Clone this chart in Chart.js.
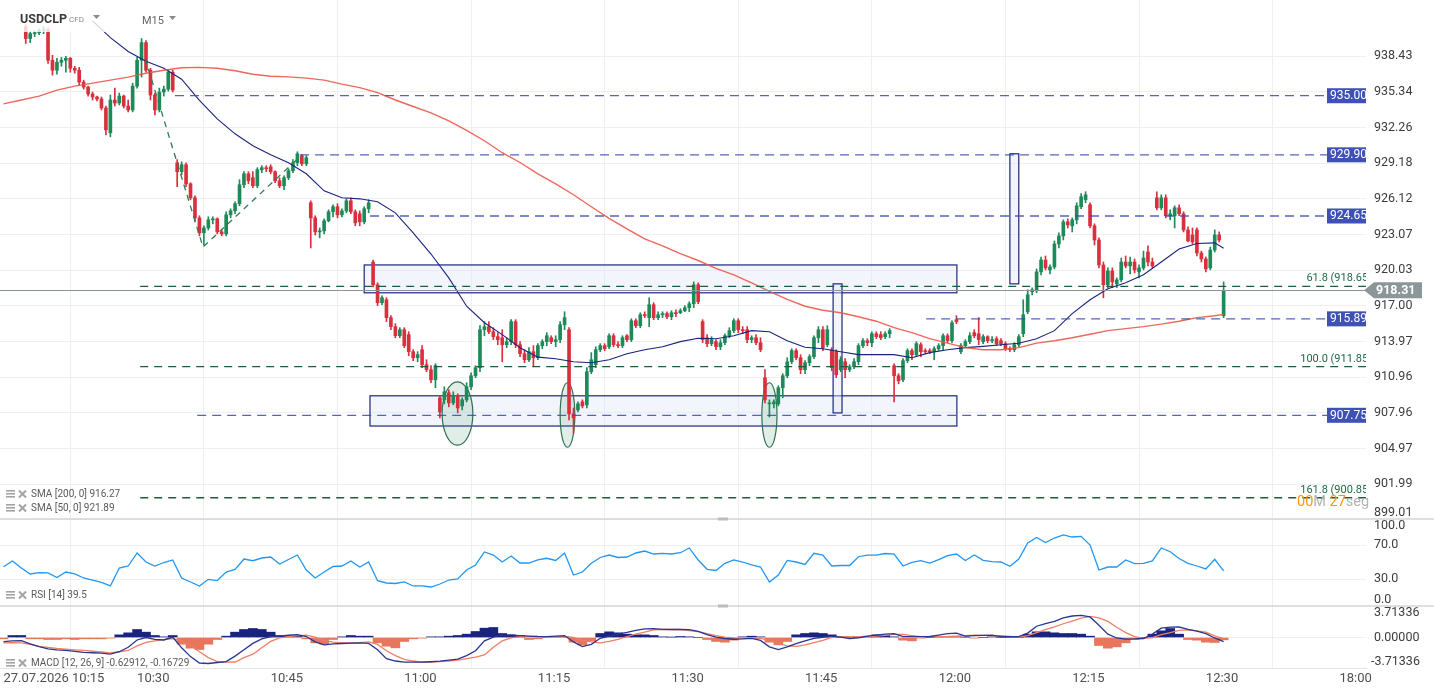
<!DOCTYPE html>
<html>
<head>
<meta charset="utf-8">
<script src="https://cdn.jsdelivr.net/npm/chart.js@4.4.0/dist/chart.umd.min.js"></script>
<style>
html, body { margin: 0; padding: 0; background: #fff; }
canvas { display: block; }
</style>
</head>
<body>
<canvas id="chart" width="1434" height="694"></canvas>
<script>
// time axis: one candle per 30 s, a label every 15 min (30 candles)
const xLabels = ['27.07.2026 10:15', '10:30', '10:45', '11:00', '11:15', '11:30', '11:45', '12:00', '12:15', '12:30', '18:00'];
const ticksEvery = 30;

// first candles sit under the symbol header and are not visible
const opens = [
  null, null, null, null, null, 940.99, 939.96, 940.39, 940.47, 940.64,
  940.73, 938.07, 937.21, 937.90, 938.07, 938.24, 937.38, 937.21, 936.18, 935.75,
  935.15, 934.89, 934.72, 933.94, 931.80, 934.63, 934.37, 934.97, 934.11, 933.77,
  935.83, 938.07, 939.61, 937.21, 935.06, 933.77, 935.32, 935.57, 937.04, 929.22,
  928.45, 929.05, 927.41, 926.21, 924.49, 923.21, 923.63, 924.32, 924.41, 923.29,
  923.12, 924.75, 925.09, 925.70, 927.33, 928.27, 927.93, 927.24, 928.62, 928.79,
  928.87, 928.45, 927.67, 927.24, 927.93, 928.53, 929.22, 929.82, 929.13, 925.78,
  924.49, 923.29, 923.38, 924.24, 925.01, 925.44, 924.75, 925.09, 925.95, 925.01,
  924.84, 924.15, 925.27, 920.72, 918.78, 917.26, 917.51, 915.99, 915.23, 914.46,
  914.97, 914.55, 913.11, 912.60, 913.28, 912.01, 911.59, 910.74, 909.22, 909.05,
  909.64, 908.79, 909.39, 908.54, 909.05, 910.15, 911.08, 911.76, 914.97, 915.23,
  914.80, 914.38, 914.29, 913.70, 913.96, 915.65, 913.70, 912.94, 912.43, 913.11,
  912.60, 913.62, 913.96, 914.29, 913.96, 914.13, 915.39, 914.97, 907.87, 908.20,
  908.88, 908.63, 911.42, 912.01, 913.28, 913.62, 913.53, 914.46, 913.70, 913.62,
  914.46, 914.13, 915.73, 915.31, 916.24, 915.99, 917.09, 915.99, 916.24, 916.33,
  916.07, 916.41, 916.41, 916.58, 916.83, 917.17, 918.78, 915.65, 914.29, 913.79,
  913.96, 913.53, 913.87, 914.46, 914.89, 915.73, 914.97, 914.97, 914.13, 914.29,
  913.87, 910.91, 908.71, 908.71, 908.71, 910.07, 911.08, 912.26, 913.20, 912.60,
  911.59, 912.18, 912.69, 914.29, 914.97, 913.70, 913.28, 913.11, 911.59, 912.26,
  911.59, 911.84, 912.26, 913.62, 914.04, 913.87, 914.63, 914.55, 914.38, 914.63,
  911.93, 911.08, 910.74, 912.35, 913.20, 912.86, 913.70, 913.20, 913.20, 913.11,
  913.36, 913.62, 914.46, 914.04, 915.82, 913.11, 913.62, 913.96, 914.72, 914.63,
  913.96, 914.38, 914.04, 914.21, 914.04, 913.79, 913.36, 913.28, 913.70, 914.63,
  916.49, 918.19, 918.36, 919.88, 920.89, 920.05, 920.30, 922.26, 922.95, 924.15,
  923.81, 924.32, 925.44, 926.04, 925.61, 923.81, 922.60, 920.47, 918.78, 919.96,
  918.86, 919.20, 920.72, 920.39, 920.72, 919.88, 920.22, 921.57, 920.72, 926.21,
  925.35, 926.21, 924.67, 924.67, 925.35, 924.84, 923.46, 923.03, 923.46, 921.49,
  920.98, 920.22, 921.74, 923.03, 916.16
];
const highs = [
  null, null, null, null, null, 941.16, 940.56, 940.64, 940.81, 940.99,
  940.90, 938.50, 938.24, 938.32, 938.41, 938.32, 937.55, 937.46, 936.35, 935.83,
  935.32, 934.97, 934.89, 934.11, 935.06, 935.66, 935.23, 935.06, 934.63, 936.09,
  938.32, 939.96, 939.78, 937.38, 935.23, 935.66, 935.83, 937.21, 937.21, 929.48,
  929.30, 929.22, 927.50, 926.38, 924.67, 923.81, 924.58, 924.58, 924.49, 923.46,
  925.01, 925.27, 925.87, 927.76, 928.45, 928.45, 928.45, 928.79, 928.96, 928.96,
  929.05, 928.53, 927.93, 928.10, 928.70, 929.48, 930.16, 929.91, 929.82, 925.95,
  924.67, 923.63, 924.41, 925.18, 925.61, 925.70, 925.27, 926.12, 926.21, 925.18,
  925.09, 925.44, 926.04, 920.89, 918.95, 917.85, 917.68, 916.16, 915.48, 915.14,
  915.14, 914.80, 913.28, 913.11, 913.62, 912.43, 911.93, 912.09, 909.39, 910.15,
  909.90, 909.73, 909.56, 909.22, 910.49, 911.33, 911.93, 915.31, 915.65, 915.65,
  915.14, 914.72, 914.97, 914.29, 915.82, 915.82, 913.96, 913.28, 913.45, 913.62,
  913.79, 914.13, 914.72, 914.46, 914.46, 915.65, 916.49, 915.14, 908.37, 908.88,
  909.05, 911.76, 913.03, 913.53, 913.79, 913.79, 914.63, 914.63, 913.96, 914.46,
  914.55, 915.90, 915.90, 916.41, 916.49, 917.68, 917.26, 916.49, 916.49, 916.49,
  916.58, 916.66, 916.75, 917.01, 917.34, 919.03, 918.95, 915.82, 914.55, 914.38,
  914.13, 914.13, 914.63, 915.14, 915.90, 915.90, 915.23, 915.23, 914.46, 914.55,
  914.29, 911.59, 909.05, 909.05, 910.23, 911.25, 912.60, 913.36, 913.36, 912.86,
  912.35, 912.86, 914.46, 915.23, 915.23, 915.31, 913.45, 913.28, 912.69, 912.52,
  912.01, 912.52, 913.79, 914.21, 914.21, 914.80, 914.80, 914.80, 914.80, 915.06,
  912.09, 911.25, 912.52, 913.36, 913.36, 913.96, 913.87, 913.36, 913.36, 913.53,
  913.79, 914.63, 914.63, 915.73, 916.16, 913.79, 914.13, 914.72, 914.97, 915.99,
  914.55, 914.46, 914.38, 914.38, 914.21, 913.96, 913.53, 913.87, 914.55, 917.51,
  918.36, 918.53, 920.13, 921.15, 921.23, 920.47, 922.52, 923.21, 924.32, 924.41,
  924.49, 925.78, 926.56, 926.73, 925.78, 923.98, 922.78, 920.72, 920.22, 920.22,
  919.37, 921.06, 921.23, 921.15, 920.98, 920.47, 921.65, 922.09, 921.06, 926.73,
  926.47, 926.47, 925.18, 925.52, 925.61, 925.01, 923.72, 923.63, 923.63, 921.65,
  921.15, 922.00, 923.46, 923.29, 919.03
];
const lows = [
  null, null, null, null, null, 939.53, 939.61, 940.13, 940.30, 940.39,
  937.81, 936.78, 936.86, 937.55, 937.04, 937.04, 936.95, 935.92, 935.57, 934.97,
  934.63, 934.54, 933.77, 931.62, 931.45, 934.11, 934.20, 933.94, 933.60, 933.60,
  935.66, 936.61, 937.04, 934.63, 933.34, 933.60, 934.97, 935.40, 935.32, 927.16,
  928.19, 927.16, 926.04, 924.15, 922.95, 922.17, 923.46, 923.98, 923.12, 922.95,
  922.95, 924.49, 924.84, 925.52, 927.07, 927.41, 927.07, 927.07, 928.36, 928.45,
  928.27, 927.50, 927.07, 926.90, 927.76, 928.36, 928.96, 928.96, 928.96, 921.92,
  923.03, 922.78, 923.12, 924.15, 924.58, 924.49, 924.58, 924.92, 924.84, 923.81,
  923.81, 923.98, 924.92, 918.61, 917.01, 917.09, 915.65, 914.97, 914.29, 914.29,
  913.45, 912.77, 912.35, 912.26, 911.76, 911.42, 910.49, 910.07, 907.53, 908.71,
  908.46, 908.63, 907.95, 908.20, 908.88, 909.90, 910.91, 911.42, 914.46, 914.63,
  914.13, 913.70, 912.26, 913.45, 913.70, 913.45, 912.69, 912.18, 912.26, 911.84,
  912.43, 913.36, 913.62, 913.79, 913.53, 913.87, 914.97, 907.36, 906.26, 908.03,
  908.37, 908.37, 911.25, 911.76, 913.11, 913.20, 913.36, 913.53, 913.45, 913.45,
  913.96, 913.96, 915.14, 915.14, 915.99, 915.23, 915.82, 915.82, 915.99, 915.90,
  915.82, 916.07, 916.33, 916.49, 916.49, 916.83, 917.17, 913.87, 913.53, 913.62,
  913.28, 913.28, 913.70, 914.29, 914.72, 914.72, 914.63, 913.87, 913.87, 913.70,
  913.11, 908.79, 907.61, 908.37, 908.54, 909.22, 910.91, 912.09, 912.43, 911.25,
  911.25, 911.93, 912.52, 913.87, 913.20, 913.53, 911.50, 910.91, 911.42, 910.91,
  911.42, 911.67, 912.01, 913.45, 913.62, 913.53, 914.21, 914.13, 914.21, 914.29,
  908.88, 910.40, 910.57, 912.18, 912.43, 912.69, 912.69, 912.94, 912.94, 912.43,
  913.20, 913.28, 913.87, 913.87, 915.48, 912.94, 913.45, 913.79, 914.29, 913.70,
  913.79, 913.87, 913.87, 913.62, 913.62, 913.20, 913.11, 913.11, 913.53, 914.38,
  916.33, 917.93, 918.10, 919.63, 920.05, 919.71, 920.13, 921.92, 922.60, 923.63,
  923.29, 923.98, 925.27, 925.78, 923.63, 922.17, 920.22, 917.68, 918.53, 918.53,
  918.53, 919.03, 920.22, 919.71, 919.79, 919.37, 920.05, 920.39, 920.22, 925.18,
  925.18, 924.49, 924.32, 923.63, 924.67, 923.29, 922.43, 922.26, 921.23, 920.72,
  919.88, 920.05, 921.57, 922.43, 915.99
];
const closes = [
  null, null, null, null, null, 939.96, 940.39, 940.47, 940.64, 940.73,
  938.07, 937.21, 937.90, 938.07, 938.24, 937.38, 937.21, 936.18, 935.75, 935.15,
  934.89, 934.72, 933.94, 932.05, 934.63, 934.37, 934.97, 934.11, 933.77, 935.83,
  938.07, 939.61, 937.21, 935.06, 933.77, 935.32, 935.57, 937.04, 935.49, 928.45,
  929.05, 927.41, 926.21, 924.49, 923.21, 923.63, 924.32, 924.41, 923.29, 923.12,
  924.75, 925.09, 925.70, 927.33, 928.27, 927.67, 927.24, 928.62, 928.79, 928.70,
  928.45, 927.67, 927.24, 927.93, 928.53, 929.22, 929.99, 929.13, 929.65, 924.49,
  923.29, 923.38, 924.24, 925.01, 925.44, 924.75, 925.09, 925.95, 925.01, 924.06,
  924.15, 925.27, 925.78, 918.78, 917.26, 917.68, 915.99, 915.23, 914.46, 914.97,
  913.62, 913.11, 912.60, 912.86, 912.01, 911.59, 910.74, 911.93, 908.03, 909.73,
  908.79, 909.39, 908.37, 909.05, 910.15, 911.08, 911.76, 914.97, 915.23, 914.80,
  914.38, 914.13, 913.70, 913.96, 915.65, 913.70, 912.94, 912.43, 913.11, 912.60,
  913.62, 913.96, 914.46, 913.96, 914.13, 915.39, 915.99, 907.87, 907.53, 908.71,
  908.54, 911.42, 912.43, 913.28, 913.62, 913.36, 914.46, 913.70, 913.62, 914.29,
  914.13, 915.73, 915.31, 916.24, 916.16, 917.09, 915.99, 916.24, 916.33, 916.07,
  916.41, 916.33, 916.58, 916.83, 917.17, 918.78, 917.34, 914.13, 913.79, 914.13,
  913.53, 913.87, 914.46, 914.89, 915.73, 914.97, 914.89, 914.13, 914.29, 913.87,
  913.28, 909.05, 908.79, 908.88, 910.07, 911.08, 912.26, 913.20, 912.60, 911.59,
  912.18, 912.69, 914.29, 914.97, 913.45, 914.97, 911.76, 911.16, 912.43, 911.59,
  911.84, 912.26, 913.62, 914.04, 913.87, 914.63, 914.38, 914.29, 914.63, 914.89,
  911.08, 910.66, 912.35, 913.20, 912.86, 913.79, 913.11, 913.11, 913.11, 913.36,
  913.62, 914.46, 914.04, 915.56, 915.65, 913.62, 913.96, 914.46, 914.46, 914.13,
  914.38, 914.04, 914.13, 913.79, 913.79, 913.36, 913.28, 913.70, 914.38, 916.24,
  917.93, 918.36, 919.88, 920.89, 920.22, 920.30, 922.26, 922.95, 924.15, 923.89,
  924.32, 925.52, 926.30, 926.47, 923.81, 922.60, 920.47, 918.78, 919.96, 919.03,
  919.20, 920.72, 920.39, 920.72, 920.05, 920.22, 921.06, 920.72, 920.39, 925.35,
  926.21, 924.67, 924.84, 925.35, 924.84, 923.46, 922.52, 922.43, 921.49, 920.98,
  920.13, 921.74, 923.03, 922.60, 918.31
];

// moving averages, read every 2 minutes (4 candles) plus the last candle
const sma200 = [
  934.29, 934.63, 934.97, 935.49, 935.83, 936.09, 936.35, 936.61, 936.95, 937.21,
  937.42, 937.46, 937.38, 937.16, 936.86, 936.69, 936.63, 936.52, 936.35, 936.00,
  935.70, 935.27, 934.63, 934.07, 933.51, 932.83, 932.01, 931.11, 930.08, 929.24,
  928.27, 927.41, 926.47, 925.44, 924.45, 923.55, 922.69, 922.09, 921.44, 920.85,
  920.17, 919.63, 918.95, 918.23, 917.55, 916.96, 916.62, 916.41, 916.07, 915.69,
  915.14, 914.72, 914.21, 913.83, 913.45, 913.28, 913.28, 913.45, 913.83, 914.04,
  914.29, 914.59, 914.89, 915.06, 915.23, 915.44, 915.69, 915.99, 916.15, 916.27
];
const sma50 = [
  null, null, null, null, null, 941.50, 940.04, 938.84, 937.98, 937.38,
  936.43, 934.59, 933.00, 931.71, 930.68, 929.91, 929.22, 928.27, 926.81, 926.21,
  926.12, 925.87, 924.92, 923.21, 921.40, 919.37, 916.96, 915.56, 914.55, 913.45,
  912.65, 912.52, 912.26, 912.18, 912.43, 912.94, 913.28, 913.53, 913.96, 914.25,
  914.21, 914.46, 914.89, 914.80, 914.04, 913.49, 913.36, 913.11, 912.86, 912.86,
  912.86, 912.60, 913.03, 913.28, 913.45, 913.56, 913.70, 913.83, 914.21, 914.89,
  916.33, 917.51, 918.44, 918.95, 919.63, 920.72, 921.83, 922.30, 922.35, 921.89
];

// oscillators, read once a minute
const rsi14 = [
  44.5, 51.2, 42.9, 35.9, 37.6, 37.1, 31.8, 38.2, 35.9, 31.2,
  28.8, 25.9, 21.8, 42.9, 45.3, 60.6, 50.0, 45.3, 49.4, 52.4,
  31.2, 26.5, 21.8, 29.6, 28.2, 38.2, 41.2, 53.5, 51.5, 54.7,
  55.9, 47.6, 52.9, 58.2, 40.6, 31.2, 38.2, 44.7, 45.3, 51.2,
  44.1, 50.0, 28.0, 25.3, 24.7, 26.5, 21.8, 21.8, 20.6, 24.1,
  28.8, 30.0, 40.6, 46.5, 61.8, 58.2, 50.0, 57.1, 48.8, 48.8,
  52.4, 54.4, 51.8, 60.6, 34.7, 38.2, 48.5, 55.3, 58.2, 55.3,
  55.9, 60.6, 62.9, 59.4, 60.2, 59.4, 60.9, 66.5, 52.4, 41.4,
  40.0, 48.5, 52.4, 50.0, 46.5, 44.1, 26.5, 34.7, 51.8, 50.0,
  47.1, 60.2, 58.2, 45.3, 45.9, 45.9, 56.2, 58.2, 58.2, 60.0,
  59.4, 45.3, 49.6, 51.5, 48.8, 52.9, 57.6, 59.4, 51.8, 58.2,
  52.0, 50.4, 50.0, 44.9, 53.5, 72.4, 78.8, 72.9, 78.2, 81.8,
  79.4, 80.2, 70.0, 40.6, 44.1, 44.1, 52.4, 48.2, 48.5, 51.2,
  66.5, 62.1, 54.1, 48.5, 45.3, 41.8, 53.2, 39.5
];
const macdLine = [
  -0.62, -0.51, -0.47, -0.95, -1.35, -1.69, -1.86, -1.94, -2.09, -2.23,
  -2.28, -2.35, -2.50, -2.13, -1.47, -0.37, 0.00, -0.29, -0.37, 0.07,
  -1.54, -2.86, -3.82, -3.89, -3.74, -3.60, -2.79, -1.84, -0.88, -0.22,
  0.15, 0.22, 0.34, 0.44, 0.15, -0.66, -1.10, -0.95, -0.90, -0.85,
  -0.81, -0.88, -1.84, -3.16, -3.52, -3.70, -3.70, -3.70, -3.63, -3.55,
  -3.38, -3.23, -2.72, -1.98, -0.51, 0.07, 0.37, 0.37, 0.29, 0.22,
  0.15, 0.12, 0.22, 0.29, -0.66, -1.35, -1.03, -0.12, 0.22, 0.51,
  0.76, 1.07, 1.28, 1.32, 1.22, 1.20, 1.20, 1.17, 0.91, 0.44,
  0.07, -0.15, -0.26, -0.22, -0.12, -0.44, -1.40, -1.81, -1.40, -0.91,
  -0.51, -0.12, 0.04, 0.22, 0.07, -0.18, -0.07, 0.22, 0.37, 0.51,
  0.59, 0.12, 0.12, 0.12, 0.15, 0.37, 0.59, 0.66, 0.22, 0.29,
  0.32, 0.37, 0.12, 0.12, 0.12, 0.66, 1.69, 2.09, 2.42, 2.94,
  3.22, 3.30, 3.08, 1.84, 0.51, -0.07, -0.25, -0.22, -0.15, 0.51,
  1.40, 1.54, 1.57, 1.22, 0.95, 0.59, -0.07, -0.62912
];
const macdSignal = [
  -0.81, -0.78, -0.81, -1.03, -1.32, -1.47, -1.62, -1.73, -1.84, -1.94,
  -2.06, -2.16, -2.31, -2.13, -1.94, -1.25, -0.73, -0.51, -0.32, -0.16,
  -0.51, -1.17, -2.13, -3.01, -3.60, -3.70, -3.67, -3.01, -2.50, -1.54,
  -0.59, -0.07, 0.15, 0.25, 0.34, 0.07, -0.44, -0.70, -0.81, -0.82,
  -0.78, -0.66, -1.03, -1.98, -2.72, -3.27, -3.52, -3.67, -3.67, -3.60,
  -3.52, -3.38, -3.16, -2.94, -2.61, -1.47, -0.51, -0.07, 0.12, 0.12,
  0.12, 0.12, 0.12, 0.12, 0.00, -0.44, -0.66, -0.81, -0.59, -0.29,
  0.15, 0.51, 0.81, 1.13, 1.20, 1.20, 1.20, 1.03, 0.88, 0.59,
  0.29, 0.07, -0.07, -0.12, -0.12, -0.12, -0.44, -0.88, -1.25, -1.32,
  -1.10, -0.78, -0.44, 0.00, 0.12, 0.12, 0.12, 0.12, 0.22, 0.32,
  0.47, 0.47, 0.29, 0.12, 0.12, 0.12, 0.15, 0.22, 0.28, 0.37,
  0.32, 0.28, 0.26, 0.15, 0.06, 0.29, 0.73, 1.17, 1.59, 2.06,
  2.47, 2.89, 3.16, 2.94, 2.42, 1.54, 0.73, 0.12, -0.12, 0.00,
  0.44, 0.73, 1.06, 1.15, 1.00, 0.81, 0.25, -0.16729
];
const macdHist = [
  -0.2, 0.3, 0.3, -0.2, -0.2, -0.3, -0.3, -0.2, -0.3, -0.2,
  -0.2, -0.2, -0.1, 0.4, 0.7, 1.2, 0.8, 0.3, 0.1, 0.3,
  -1.0, -1.6, -1.8, -1.0, -0.3, 0.2, 0.8, 1.2, 1.35, 1.2,
  0.8, 0.3, 0.2, 0.2, -0.2, -0.8, -1.0, -0.3, 0.1, 0.3,
  0.2, 0.2, -0.8, -1.3, -1.55, -0.6, -0.2, -0.1, 0.1, 0.1,
  0.2, 0.3, 0.5, 0.9, 1.4, 1.5, 0.6, 0.4, 0.3, -0.3,
  -0.2, 0.1, 0.1, 0.1, -0.7, -1.1, -0.5, 0.6, 0.85, 0.7,
  0.5, 0.4, 0.4, 0.3, 0.1, 0.05, 0.15, 0.1, 0.0, -0.3,
  -0.6, -0.7, -0.4, 0.1, 0.2, 0.1, -0.7, -1.1, -0.6, 0.4,
  0.6, 0.7, 0.6, 0.4, 0.0, 0.05, 0.0, 0.2, 0.4, 0.3,
  0.1, -0.4, -0.5, -0.1, 0.0, 0.1, 0.1, 0.1, 0.05, -0.1,
  0.0, 0.1, 0.0, 0.0, 0.0, 0.5, 0.85, 0.85, 0.7, 0.6,
  0.6, 0.5, 0.2, -1.2, -1.6, -1.4, -0.8, -0.3, 0.0, 0.5,
  1.0, 1.35, 0.5, -0.3, -0.4, -0.7, -0.75, -0.35
];

// axis ticks
const priceTicks = [938.43, 935.34, 932.26, 929.18, 926.12, 923.07, 920.03, 917.00, 913.97, 910.96, 907.96, 904.97, 901.99, 899.01];
const rsiTicks = [100, 70, 30, 0];
const macdTicks = [3.71336, 0, -3.71336];
const lastPrice = 918.31;

// drawings on the price pane (candle index, price)
const levelPrices = [935.00, 929.90, 924.65, 915.89, 907.75];
const levelFrom = [38.5, 66.6, 82.3, 207.2, 43.5];
const fibPrices = [918.65, 911.85, 900.85];
const fibNames = ['61.8 (918.65)', '100.0 (911.85)', '161.8 (900.85)'];
const fibFrom = 30.7;
const trendIdx = [31.8, 44.8, 66.6];
const trendPrice = [938.24, 922.00, 929.74];
const zoneFrom = [81.0, 82.3, 186.3, 226.0];
const zoneTo = [214.1, 214.1, 188.3, 228.0];
const zoneHigh = [920.47, 909.39, 918.86, 929.99];
const zoneLow = [918.10, 906.85, 907.95, 918.86];
const ovalFrom = [98.5, 125.0, 170.3];
const ovalTo = [105.4, 128.3, 173.7];
const ovalHigh = [910.57, 910.49, 910.49];
const ovalLow = [905.24, 905.07, 905.07];

const UP = '#1f8a59';
const DOWN = '#d9303e';
const shown = closes.map((c, i) => i).filter(i => closes[i] !== null);
const candleColor = shown.map(i => closes[i] >= opens[i] ? UP : DOWN);
const smaIdx = sma200.map((v, j) => j < sma200.length - 1 ? j * 4 : closes.length - 1);

function drawIcons(ctx, y) {
  ctx.fillStyle = '#a3a3a3';
  for (let k = 0; k < 3; k++) ctx.fillRect(6, y - 4 + k * 3, 9, 1.6);
  ctx.strokeStyle = '#a3a3a3';
  ctx.lineWidth = 2;
  ctx.beginPath();
  ctx.moveTo(19, y - 3.5); ctx.lineTo(26, y + 3.5);
  ctx.moveTo(26, y - 3.5); ctx.lineTo(19, y + 3.5);
  ctx.stroke();
}

const drawings = {
  id: 'drawings',
  beforeDatasetsDraw(chart) {
    const {ctx, scales: {x, y}} = chart;
    ctx.save();
    ctx.beginPath();
    ctx.rect(x.left, y.top, x.right - x.left, y.bottom - y.top);
    ctx.clip();
    zoneFrom.forEach((f, i) => {
      const l = x.getPixelForValue(f), r = x.getPixelForValue(zoneTo[i]);
      const t = y.getPixelForValue(zoneHigh[i]), b = y.getPixelForValue(zoneLow[i]);
      ctx.fillStyle = 'rgba(225,231,247,0.4)';
      ctx.fillRect(l, t, r - l, b - t);
      ctx.strokeStyle = '#1c2580';
      ctx.lineWidth = 1.2;
      ctx.strokeRect(l, t, r - l, b - t);
    });
    ovalFrom.forEach((f, i) => {
      const l = x.getPixelForValue(f), r = x.getPixelForValue(ovalTo[i]);
      const t = y.getPixelForValue(ovalHigh[i]), b = y.getPixelForValue(ovalLow[i]);
      ctx.beginPath();
      ctx.ellipse((l + r) / 2, (t + b) / 2, (r - l) / 2, (b - t) / 2, 0, 0, Math.PI * 2);
      ctx.fillStyle = 'rgba(70,140,105,0.16)';
      ctx.fill();
      ctx.strokeStyle = '#2f6f52';
      ctx.lineWidth = 1.2;
      ctx.stroke();
    });
    ctx.restore();
  },
  afterDatasetsDraw(chart) {
    const {ctx, scales: {x, y}} = chart;
    ctx.save();
    ctx.beginPath();
    ctx.rect(x.left, y.top, x.right - x.left, y.bottom - y.top);
    ctx.clip();

    // current price
    const lp = Math.round(y.getPixelForValue(lastPrice)) + 0.5;
    ctx.strokeStyle = '#8d9497';
    ctx.lineWidth = 1;
    ctx.beginPath(); ctx.moveTo(x.left, lp); ctx.lineTo(x.right, lp); ctx.stroke();

    // fibonacci levels
    ctx.setLineDash([8, 6]);
    ctx.strokeStyle = '#1d5e3d';
    ctx.lineWidth = 1.3;
    fibPrices.forEach(p => {
      const py = y.getPixelForValue(p);
      ctx.beginPath(); ctx.moveTo(x.getPixelForValue(fibFrom), py); ctx.lineTo(x.right, py); ctx.stroke();
    });
    // trend lines
    ctx.setLineDash([6, 5]);
    ctx.strokeStyle = '#2e7d55';
    ctx.beginPath();
    trendIdx.forEach((t, i) => {
      const px = x.getPixelForValue(t), py = y.getPixelForValue(trendPrice[i]);
      if (i === 0) ctx.moveTo(px, py); else ctx.lineTo(px, py);
    });
    ctx.stroke();
    // horizontal levels
    ctx.setLineDash([9, 6]);
    ctx.strokeStyle = 'rgba(57,73,171,0.85)';
    levelPrices.forEach((p, i) => {
      const py = y.getPixelForValue(p);
      ctx.beginPath(); ctx.moveTo(x.getPixelForValue(levelFrom[i]), py); ctx.lineTo(x.right - 39, py); ctx.stroke();
    });
    ctx.setLineDash([]);
    ctx.font = '12px Roboto';
    ctx.textBaseline = 'middle';
    levelPrices.forEach(p => {
      const py = y.getPixelForValue(p);
      ctx.fillStyle = '#3f51b5';
      ctx.fillRect(x.right - 39, py - 7.5, 39, 15);
      ctx.fillStyle = '#ffffff';
      ctx.textAlign = 'left';
      ctx.fillText(p.toFixed(2), x.right - 36, py + 0.5);
    });
    ctx.font = '11px Roboto';
    ctx.fillStyle = '#1e6b47';
    ctx.textAlign = 'right';
    ctx.textBaseline = 'alphabetic';
    fibPrices.forEach((p, i) => {
      const py = y.getPixelForValue(p);
      ctx.fillText(fibNames[i], x.right + 6, py - 5);
    });
    ctx.restore();
  },
  afterDraw(chart) {
    const {ctx, scales: {x, y, yRsi, yMacd}} = chart;
    ctx.save();
    const W = chart.width;

    // pane separators
    ctx.strokeStyle = '#d5d5d5';
    ctx.lineWidth = 1.5;
    [yRsi.top, yMacd.top].forEach(t => {
      ctx.beginPath(); ctx.moveTo(0, t); ctx.lineTo(W, t); ctx.stroke();
      ctx.fillStyle = '#bdbdbd';
      ctx.fillRect(718, t - 1.5, 10, 3);
    });

    // right axis labels
    ctx.font = '12.5px Roboto';
    ctx.fillStyle = '#3d3d3d';
    ctx.textAlign = 'left';
    ctx.textBaseline = 'middle';
    const axisX = x.right + 8;
    priceTicks.forEach(v => {
      const py = Math.min(Math.max(y.getPixelForValue(v), y.top + 7), y.bottom - 6);
      ctx.fillText(v.toFixed(2), axisX, py);
    });
    rsiTicks.forEach(v => {
      const py = Math.min(Math.max(yRsi.getPixelForValue(v), yRsi.top + 7), yRsi.bottom - 6);
      ctx.fillText(v.toFixed(1), axisX, py);
    });
    macdTicks.forEach(v => {
      const py = Math.min(Math.max(yMacd.getPixelForValue(v), yMacd.top + 6), yMacd.bottom - 5);
      ctx.fillText(v.toFixed(5), v < 0 ? axisX - 3 : axisX, py);
    });

    // current price tag
    const lp = y.getPixelForValue(lastPrice);
    ctx.fillStyle = '#8c9699';
    ctx.beginPath();
    ctx.moveTo(x.right - 2, lp);
    ctx.lineTo(x.right + 8, lp - 8);
    ctx.lineTo(W - 12, lp - 8);
    ctx.lineTo(W - 12, lp + 8);
    ctx.lineTo(x.right + 8, lp + 8);
    ctx.closePath();
    ctx.fill();
    ctx.fillStyle = '#ffffff';
    ctx.font = 'bold 12.5px Roboto';
    ctx.fillText(lastPrice.toFixed(2), x.right + 10, lp + 0.5);

    // countdown
    ctx.textBaseline = 'alphabetic';
    ctx.font = '14.5px Roboto';
    let cx = x.right - 69;
    const cy = y.getPixelForValue(fibPrices[2]) + 8;
    [['00', '#ff9800'], ['M', '#b3b3b3'], [' 27', '#ff9800'], ['seg', '#b3b3b3']].forEach(([t, c]) => {
      ctx.fillStyle = c;
      ctx.fillText(t, cx, cy);
      cx += ctx.measureText(t).width;
    });

    // indicator legends
    ctx.font = '10px Roboto';
    ctx.textBaseline = 'middle';
    const legends = [
      [y.bottom - 25, 'SMA [200, 0] ' + sma200[sma200.length - 1].toFixed(2)],
      [y.bottom - 11, 'SMA [50, 0] ' + sma50[sma50.length - 1].toFixed(2)],
      [yRsi.bottom - 11, 'RSI [14] ' + rsi14[rsi14.length - 1].toFixed(1)],
      [yMacd.bottom - 5, 'MACD [12, 26, 9] ' + macdLine[macdLine.length - 1].toFixed(5) + ', ' + macdSignal[macdSignal.length - 1].toFixed(5)]
    ];
    legends.forEach(([ly, txt]) => {
      drawIcons(ctx, ly);
      ctx.fillStyle = '#5a5a5a';
      ctx.fillText(txt, 31, ly);
    });

    // symbol header
    ctx.fillStyle = 'rgba(255,255,255,0.8)';
    ctx.fillRect(0, 0, 188, 32);
    ctx.textBaseline = 'alphabetic';
    ctx.fillStyle = '#3a3a3a';
    ctx.font = 'bold 12.5px Roboto';
    ctx.fillText('USDCLP', 20, 23);
    ctx.fillStyle = '#8a8a8a';
    ctx.font = '8px Roboto';
    ctx.fillText('CFD', 69, 22);
    ctx.font = '11px Roboto';
    ctx.fillStyle = '#666666';
    ctx.fillText('M15', 142, 24);
    ctx.fillStyle = '#8a8a8a';
    [[93, 15], [169, 16]].forEach(([tx, ty]) => {
      ctx.beginPath();
      ctx.moveTo(tx, ty); ctx.lineTo(tx + 7, ty); ctx.lineTo(tx + 3.5, ty + 4);
      ctx.closePath(); ctx.fill();
    });
    ctx.restore();
  }
};

new Chart(document.getElementById('chart'), {
  type: 'bar',
  data: {
    datasets: [
      {type: 'line', label: 'SMA 200', data: sma200.map((v, j) => ({x: smaIdx[j], y: v})), borderColor: 'rgba(236,86,74,0.9)', borderWidth: 1.4, pointRadius: 0, yAxisID: 'y', order: 0},
      {type: 'line', label: 'SMA 50', data: sma50.map((v, j) => ({x: smaIdx[j], y: v})), borderColor: '#1b247c', borderWidth: 1.1, pointRadius: 0, yAxisID: 'y', order: 0},
      {label: 'body', data: shown.map(i => ({x: i, y: [opens[i], closes[i]]})), backgroundColor: candleColor, barThickness: 3, minBarLength: 1, grouped: false, yAxisID: 'y', order: 1},
      {label: 'wick', data: shown.map(i => ({x: i, y: [lows[i], highs[i]]})), backgroundColor: candleColor, barThickness: 1, grouped: false, yAxisID: 'y', order: 2},
      {type: 'line', label: 'RSI', data: rsi14.map((v, k) => ({x: k * 2, y: v})), borderColor: '#2196f3', borderWidth: 1.3, pointRadius: 0, yAxisID: 'yRsi', order: 0},
      {type: 'line', label: 'MACD', data: macdLine.map((v, k) => ({x: k * 2, y: v})), borderColor: '#2a3590', borderWidth: 1.3, pointRadius: 0, yAxisID: 'yMacd', order: 0},
      {type: 'line', label: 'Signal', data: macdSignal.map((v, k) => ({x: k * 2, y: v})), borderColor: '#ef7f64', borderWidth: 1.3, pointRadius: 0, yAxisID: 'yMacd', order: 0},
      {label: 'Histogram', data: macdHist.map((v, k) => ({x: k * 2, y: v})), backgroundColor: macdHist.map(v => v >= 0 ? '#1a237e' : '#e8765c'), barThickness: 9, grouped: false, yAxisID: 'yMacd', order: 3}
    ]
  },
  options: {
    responsive: false,
    animation: false,
    events: [],
    layout: {padding: 0, autoPadding: false},
    plugins: {legend: {display: false}, tooltip: {enabled: false}},
    scales: {
      x: {
        type: 'linear', min: -0.786, max: 305.97, offset: false, position: 'bottom',
        grid: {color: '#efefef', drawTicks: false},
        border: {color: '#e3e3e3'},
        afterBuildTicks: s => { s.ticks = xLabels.map((l, i) => ({value: i * ticksEvery})); },
        afterFit: s => { s.height = 26; },
        ticks: {align: 'start', padding: 3, maxRotation: 0, autoSkip: false, color: '#505050',
          font: {family: 'Roboto', size: 13}, callback: (v, i) => xLabels[i]}
      },
      y: {
        type: 'logarithmic', position: 'right', stack: 'panes', stackWeight: 519,
        min: 899.08, max: 943.32,
        grid: {color: '#efefef', drawTicks: false}, border: {display: false},
        ticks: {display: false},
        afterBuildTicks: s => { s.ticks = priceTicks.map(v => ({value: v})); },
        afterFit: s => { s.width = 68; }
      },
      yRsi: {
        type: 'linear', position: 'right', stack: 'panes', stackWeight: 87,
        min: -1.76, max: 100.59,
        grid: {color: '#efefef', drawTicks: false}, border: {display: false},
        ticks: {display: false},
        afterBuildTicks: s => { s.ticks = [70, 30].map(v => ({value: v})); },
        afterFit: s => { s.width = 68; }
      },
      yMacd: {
        type: 'linear', position: 'right', stack: 'panes', stackWeight: 62,
        min: -4.565, max: 4.716,
        grid: {color: '#efefef', drawTicks: false}, border: {display: false},
        ticks: {display: false},
        afterBuildTicks: s => { s.ticks = [0].map(v => ({value: v})); },
        afterFit: s => { s.width = 68; }
      }
    }
  },
  plugins: [drawings]
});
</script>
</body>
</html>
